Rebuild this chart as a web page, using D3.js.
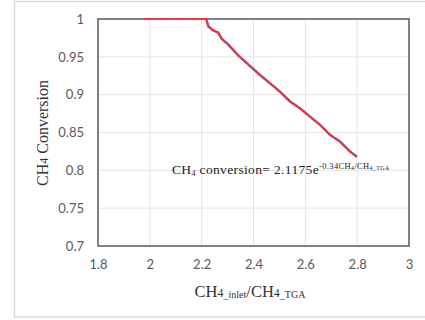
<!DOCTYPE html>
<html><head><meta charset="utf-8">
<script src="https://cdn.jsdelivr.net/npm/d3@7"></script>
<style>html,body{margin:0;padding:0;background:#fff;}svg{display:block;}</style>
</head><body>
<script>
// Data
const fitX = [1.974, 2.217, 2.226, 2.245, 2.264, 2.277, 2.303, 2.341, 2.386, 2.425, 2.464, 2.502, 2.541, 2.579, 2.618, 2.657, 2.695, 2.734, 2.772, 2.799];
const fitY = [1.000, 1.000, 0.990, 0.985, 0.982, 0.974, 0.966, 0.952, 0.938, 0.926, 0.915, 0.904, 0.891, 0.882, 0.871, 0.860, 0.847, 0.838, 0.825, 0.818];
const xTicks = [1.8, 2, 2.2, 2.4, 2.6, 2.8, 3];
const yTicks = [0.7, 0.75, 0.8, 0.85, 0.9, 0.95, 1];
const xTickLabels = ["1.8", "2", "2.2", "2.4", "2.6", "2.8", "3"];
const yTickLabels = ["0.7", "0.75", "0.8", "0.85", "0.9", "0.95", "1"];

const W = 425, H = 320;
const m = {left: 98, right: 409, top: 19, bottom: 246};
const svg = d3.select("body").append("svg").attr("width", W).attr("height", H);

// outer frame
svg.append("rect").attr("x", 14.5).attr("y", 1.5).attr("width", 430).attr("height", 315.5)
  .attr("fill", "#fff").attr("stroke", "#d9d9d9").attr("stroke-width", 1.5);

const x = d3.scaleLinear().domain([1.8, 3]).range([m.left, m.right]);
const y = d3.scaleLinear().domain([0.7, 1]).range([m.bottom, m.top]);

// gridlines
svg.append("g").selectAll("line").data(xTicks.slice(1, -1)).join("line")
  .attr("x1", d => x(d)).attr("x2", d => x(d)).attr("y1", m.top).attr("y2", m.bottom)
  .attr("stroke", "#e4e4e4").attr("stroke-width", 1);
svg.append("g").selectAll("line").data(yTicks.slice(1, -1)).join("line")
  .attr("y1", d => y(d)).attr("y2", d => y(d)).attr("x1", m.left).attr("x2", m.right)
  .attr("stroke", "#e4e4e4").attr("stroke-width", 1);

// plot box
svg.append("rect").attr("x", m.left).attr("y", m.top).attr("width", m.right - m.left).attr("height", m.bottom - m.top)
  .attr("fill", "none").attr("stroke", "#595959").attr("stroke-width", 1.5);

// axes labels via d3 axes (no lines)
const xa = svg.append("g").attr("transform", `translate(0,${m.bottom})`)
  .call(d3.axisBottom(x).tickValues(xTicks).tickFormat((d, i) => xTickLabels[i]).tickSize(0).tickPadding(14));
const ya = svg.append("g").attr("transform", `translate(${m.left},0)`)
  .call(d3.axisLeft(y).tickValues(yTicks).tickFormat((d, i) => yTickLabels[i]).tickSize(0).tickPadding(14));
[xa, ya].forEach(a => {
  a.select(".domain").remove();
  a.selectAll("text").attr("font-family", "Lato, 'Open Sans', sans-serif").attr("font-size", 13).attr("fill", "#595959");
});

// data lines
const pts = fitX.map((v, i) => [v, fitY[i]]);
const line = d3.line().x(d => x(d[0])).y(d => y(d[1]));
svg.append("path").datum(pts.slice(1)).attr("d", line).attr("fill", "none")
  .attr("stroke", "#4472c4").attr("stroke-width", 2.4);
svg.append("path").datum(pts).attr("d", line).attr("fill", "none")
  .attr("stroke", "#ff3030").attr("stroke-width", 2).attr("stroke-dasharray", "7,1");

// equation
const eq = svg.append("text").attr("x", 172).attr("y", 174)
  .attr("font-family", "'Liberation Serif', 'Times New Roman', serif").attr("font-size", 13.5)
  .attr("letter-spacing", 0.35).attr("fill", "#222");
eq.append("tspan").text("CH");
eq.append("tspan").attr("font-size", 8).attr("dy", 1.5).text("4");
eq.append("tspan").attr("dy", -1.5).text(" conversion= 2.1175e");
eq.append("tspan").attr("font-size", 8.5).attr("dy", -5).text("-0.34CH");
eq.append("tspan").attr("font-size", 6).attr("dy", 1).text("4");
eq.append("tspan").attr("font-size", 8.5).attr("dy", -1).text("/CH");
eq.append("tspan").attr("font-size", 6).attr("dy", 1).text("4_TGA");

// x title
const xt = svg.append("text").attr("x", 250).attr("y", 297).attr("text-anchor", "middle")
  .attr("font-family", "'Liberation Serif', 'Times New Roman', serif").attr("font-size", 16.5).attr("fill", "#333");
xt.append("tspan").text("CH");
xt.append("tspan").attr("font-size", 12).text("4");
xt.append("tspan").attr("font-size", 10).attr("dy", 1).text("_inlet");
xt.append("tspan").attr("dy", -1).text("/CH");
xt.append("tspan").attr("font-size", 12).text("4");
xt.append("tspan").attr("font-size", 10).attr("dy", 1).text("_TGA");

// y title
const yt = svg.append("text").attr("transform", "translate(48,133) rotate(-90)").attr("text-anchor", "middle")
  .attr("font-family", "'Liberation Serif', 'Times New Roman', serif").attr("font-size", 16).attr("fill", "#333");
yt.append("tspan").text("CH");
yt.append("tspan").attr("font-size", 12).text("4");
yt.append("tspan").text(" Conversion");
</script>
</body></html>
